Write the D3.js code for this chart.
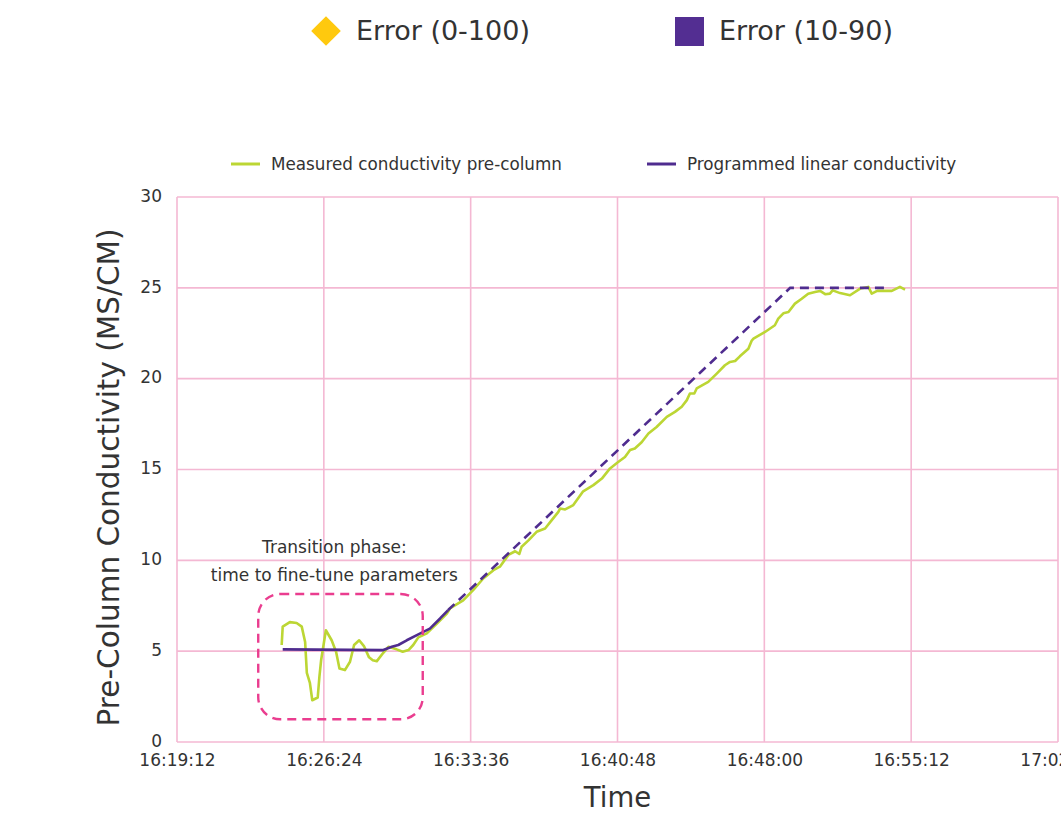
<!DOCTYPE html>
<html>
<head>
<meta charset="utf-8">
<script src="https://cdn.jsdelivr.net/npm/d3@7"></script>
<style>
  html, body { margin: 0; padding: 0; background: #ffffff; }
  svg { display: block; font-family: "DejaVu Sans", Verdana, sans-serif; }
</style>
</head>
<body>
<svg id="chart" width="1061" height="821"></svg>
<script>
// ---------- data ----------
const xTickLabels = ["16:19:12", "16:26:24", "16:33:36", "16:40:48", "16:48:00", "16:55:12", "17:02:24"];
const yTickValues = [0, 5, 10, 15, 20, 25, 30];

const measuredTimes = [
  "16:24:20","16:24:23","16:24:44","16:25:04","16:25:19","16:25:29","16:25:34","16:25:43","16:25:50",
  "16:26:06","16:26:11","16:26:16","16:26:30","16:26:47","16:27:00","16:27:10","16:27:26","16:27:41",
  "16:27:53","16:28:08","16:28:22","16:28:37","16:28:48","16:29:00","16:29:19","16:29:34","16:29:58",
  "16:30:16","16:30:33","16:30:47","16:31:02","16:31:27","16:31:56","16:32:26","16:32:35","16:33:14",
  "16:33:44","16:34:13","16:34:43","16:35:02","16:35:27","16:35:47","16:35:59","16:36:06","16:36:26",
  "16:36:50","16:37:15","16:37:34","16:37:54","16:37:59","16:38:14","16:38:38","16:39:07","16:39:37",
  "16:40:02","16:40:26","16:40:50","16:41:10","16:41:25","16:41:39","16:41:59","16:42:19","16:42:43",
  "16:43:13","16:43:37","16:43:57","16:44:12","16:44:21","16:44:34","16:44:41","16:45:15","16:45:40",
  "16:46:04","16:46:19","16:46:34","16:46:48","16:47:13","16:47:23","16:47:28","16:48:02","16:48:31",
  "16:48:41","16:48:56","16:49:11","16:49:30","16:49:50","16:50:09","16:50:29","16:50:44","16:50:59",
  "16:51:13","16:51:21","16:51:43","16:52:12","16:52:42","16:53:06","16:53:16","16:53:32","16:54:00",
  "16:54:15","16:54:39","16:54:54"
];
const measuredValues = [
  5.34, 6.35, 6.6, 6.55, 6.35, 5.5, 3.8, 3.25, 2.3,
  2.45, 3.6, 4.5, 6.15, 5.6, 4.97, 4.05, 3.96, 4.42,
  5.34, 5.6, 5.28, 4.66, 4.5, 4.45, 4.91, 5.24, 5.1,
  4.97, 5.06, 5.34, 5.76, 5.98, 6.5, 7.07, 7.35, 7.8,
  8.37, 9.0, 9.46, 9.65, 10.3, 10.5, 10.35, 10.75, 11.1,
  11.57, 11.75, 12.2, 12.67, 12.85, 12.8, 13.04, 13.8, 14.14,
  14.5, 15.06, 15.41, 15.69, 16.07, 16.16, 16.5, 16.98, 17.34,
  17.9, 18.17, 18.45, 18.82, 19.18, 19.18, 19.46, 19.82, 20.28,
  20.74, 20.92, 20.97, 21.23, 21.65, 22.1, 22.2, 22.57, 22.94,
  23.3, 23.6, 23.67, 24.13, 24.4, 24.68, 24.77, 24.83, 24.65,
  24.68, 24.86, 24.71, 24.59, 24.96, 25.05, 24.68, 24.83, 24.83,
  24.83, 25.05, 24.9
];

const programmedTimes  = ["16:24:23","16:29:19","16:29:44","16:30:03","16:30:28","16:31:02","16:31:36","16:32:06","16:32:29","16:49:16","16:54:04"];
const programmedValues = [5.1, 5.06, 5.24, 5.34, 5.6, 5.92, 6.24, 6.8, 7.25, 25, 25];
const programmedSolidUntil = "16:32:29";

const seriesNames = ["Measured conductivity pre-column", "Programmed linear conductivity"];
const topLegendNames = ["Error (0-100)", "Error (10-90)"];

const annotationLines = ["Transition phase:", "time to fine-tune parameters"];
const annotationBoxTimes = ["16:23:11", "16:31:15"];
const annotationBoxValues = [1.25, 8.15];
const annotationTextTime = "16:26:55";
const annotationTextValues = [10.4, 8.86];

// ---------- setup ----------
const parse = d3.timeParse("%H:%M:%S");
const svg = d3.select("#chart");
const W = 1061, H = 821;
const m = { left: 177, top: 197, right: 1058, bottom: 742 };

const COL_GREEN = "#bcd634";
const COL_PURPLE = "#4f2c8f";
const COL_GRID = "#f4b8d3";
const COL_TEXT = "#333333";
const COL_BOX = "#ea3d8f";

svg.append("rect").attr("width", W).attr("height", H).attr("fill", "#fff");

const x = d3.scaleTime()
  .domain([parse(xTickLabels[0]), parse(xTickLabels[xTickLabels.length - 1])])
  .range([m.left, m.right]);
const y = d3.scaleLinear().domain([0, 30]).range([m.bottom, m.top]);

// grid
const grid = svg.append("g");
grid.selectAll("line.v").data(xTickLabels).join("line")
  .attr("x1", d => x(parse(d))).attr("x2", d => x(parse(d)))
  .attr("y1", m.top).attr("y2", m.bottom)
  .attr("stroke", COL_GRID).attr("stroke-width", 1.6);
grid.selectAll("line.h").data(yTickValues).join("line")
  .attr("x1", m.left).attr("x2", m.right)
  .attr("y1", d => y(d)).attr("y2", d => y(d))
  .attr("stroke", COL_GRID).attr("stroke-width", 1.6);

// axes (labels only)
const xAxis = d3.axisBottom(x).tickValues(xTickLabels.map(parse))
  .tickFormat(d3.timeFormat("%H:%M:%S")).tickSize(0).tickPadding(12);
const gx = svg.append("g").attr("transform", `translate(0,${m.bottom})`).call(xAxis);
gx.select(".domain").remove();
gx.selectAll("text").attr("font-size", 17).attr("fill", COL_TEXT)
  .attr("font-family", "DejaVu Sans, Verdana, sans-serif");

const yAxis = d3.axisLeft(y).tickValues(yTickValues).tickSize(0).tickPadding(15);
const gy = svg.append("g").attr("transform", `translate(${m.left},0)`).call(yAxis);
gy.select(".domain").remove();
gy.selectAll("text").attr("font-size", 17).attr("fill", COL_TEXT)
  .attr("font-family", "DejaVu Sans, Verdana, sans-serif").attr("dy", "0.25em");

// axis titles
svg.append("text").attr("x", (m.left + m.right) / 2).attr("y", 807)
  .attr("text-anchor", "middle").attr("font-size", 27.5).attr("fill", COL_TEXT).text("Time");
svg.append("text")
  .attr("transform", `translate(119,${(m.top + m.bottom) / 2 + 8}) rotate(-90)`)
  .attr("text-anchor", "middle").attr("font-size", 29.5).attr("fill", COL_TEXT)
  .text("Pre-Column Conductivity (MS/CM)");

// measured line
const measured = measuredTimes.map((t, i) => ({ t: parse(t), v: measuredValues[i] }));
const line = d3.line().x(d => x(d.t)).y(d => y(d.v));
svg.append("path").datum(measured).attr("d", line)
  .attr("fill", "none").attr("stroke", COL_GREEN).attr("stroke-width", 2.6)
  .attr("stroke-linejoin", "round");

// programmed line (solid then dashed)
const programmed = programmedTimes.map((t, i) => ({ t: parse(t), v: programmedValues[i] }));
const splitT = parse(programmedSolidUntil);
const progSolid = programmed.filter(d => d.t <= splitT);
const progDashed = programmed.filter(d => d.t >= splitT);
svg.append("path").datum(progSolid).attr("d", line)
  .attr("fill", "none").attr("stroke", COL_PURPLE).attr("stroke-width", 2.6)
  .attr("stroke-linejoin", "round");
svg.append("path").datum(progDashed).attr("d", line)
  .attr("fill", "none").attr("stroke", COL_PURPLE).attr("stroke-width", 2.6)
  .attr("stroke-dasharray", "9,6");

// annotation box
const bx0 = x(parse(annotationBoxTimes[0])), bx1 = x(parse(annotationBoxTimes[1]));
const by0 = y(annotationBoxValues[1]), by1 = y(annotationBoxValues[0]);
svg.append("rect").attr("x", bx0).attr("y", by0)
  .attr("width", bx1 - bx0).attr("height", by1 - by0)
  .attr("rx", 22).attr("ry", 22)
  .attr("fill", "none").attr("stroke", COL_BOX).attr("stroke-width", 2.4)
  .attr("stroke-dasharray", "9,6");
svg.selectAll("text.annot").data(annotationLines).join("text")
  .attr("class", "annot")
  .attr("x", x(parse(annotationTextTime)))
  .attr("y", (d, i) => y(annotationTextValues[i]))
  .attr("text-anchor", "middle").attr("font-size", 17).attr("fill", COL_TEXT)
  .text(d => d);

// inner legend
const lg = svg.append("g");
const lgItems = [
  { name: seriesNames[0], color: COL_GREEN, x: 231 },
  { name: seriesNames[1], color: COL_PURPLE, x: 647 }
];
lgItems.forEach(it => {
  lg.append("line").attr("x1", it.x).attr("x2", it.x + 29).attr("y1", 164).attr("y2", 164)
    .attr("stroke", it.color).attr("stroke-width", 3);
  lg.append("text").attr("x", it.x + 40).attr("y", 170)
    .attr("font-size", 16.8).attr("fill", COL_TEXT).text(it.name);
});

// top legend
const tl = svg.append("g");
tl.append("path")
  .attr("d", d3.symbol().type(d3.symbolSquare).size(440)())
  .attr("transform", "translate(326,31) rotate(45)")
  .attr("fill", "#ffc90e");
tl.append("text").attr("x", 356).attr("y", 40).attr("font-size", 27).attr("fill", COL_TEXT).text(topLegendNames[0]);
tl.append("rect").attr("x", 675).attr("y", 17).attr("width", 29).attr("height", 29).attr("fill", "#532e92");
tl.append("text").attr("x", 719).attr("y", 40).attr("font-size", 27).attr("fill", COL_TEXT).text(topLegendNames[1]);
</script>
</body>
</html>
